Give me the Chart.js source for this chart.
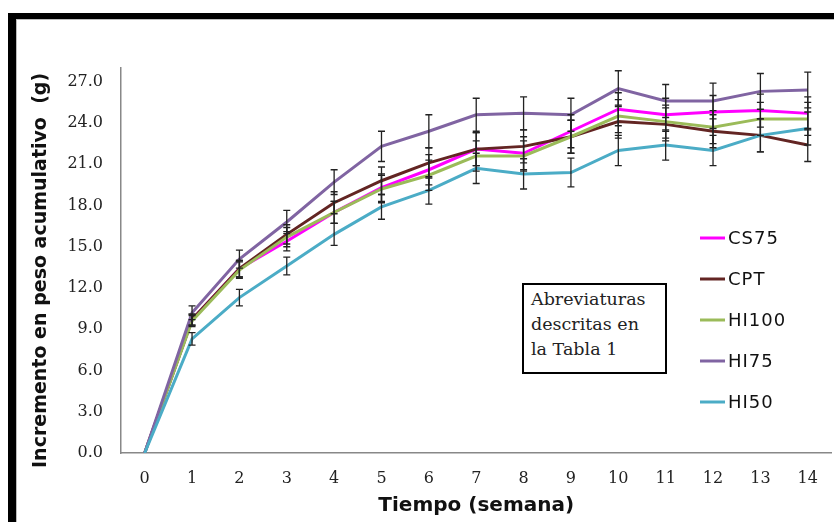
<!DOCTYPE html>
<html>
<head>
<meta charset="utf-8">
<script src="https://cdn.jsdelivr.net/npm/chart.js@4.4.1/dist/chart.umd.min.js"></script>
<style>
  body { margin: 0; background: #fff; }
  #wrap { position: relative; width: 834px; height: 522px; overflow: hidden; }
  #frame { position: absolute; left: 8px; top: 13px; width: 826px; height: 509px;
           border-top: 6px solid #000; border-left: 8px solid #000; box-sizing: border-box; }
  #inner { position: absolute; left: 16px; top: 19px; width: 818px; height: 503px;
           border-top: 1px solid #bbb; border-left: 1px solid #bbb; box-sizing: border-box; }
  #note { position: absolute; left: 522px; top: 283px; width: 145px; height: 91px;
          border: 2.5px solid #000; box-sizing: border-box; padding: 2px 7px;
          font-family: 'DejaVu Serif', serif; font-size: 17.5px; line-height: 25px; color: #222; background: #fff; }
  canvas { position: absolute; left: 0; top: 0; }
</style>
</head>
<body>
<div id="wrap">
  <div id="frame"></div>
  <div id="inner"></div>
  <canvas id="growth" width="834" height="522"></canvas>
  <div id="note">Abreviaturas descritas en la Tabla 1</div>
</div>
<script>
// incremento en peso acumulativo por semana

let weeks = ['0','1','2','3','4','5','6','7','8','9','10','11','12','13','14'];

let cs75  = [0, 9.7, 13.4, 15.4, 17.5, 19.3, 20.6, 22.1, 21.8, 23.4, 25.0, 24.6, 24.8, 24.9, 24.7];
let cpt   = [0, 9.7, 13.4, 15.9, 18.2, 19.8, 21.1, 22.1, 22.3, 23.0, 24.1, 23.9, 23.4, 23.1, 22.4];
let hi100 = [0, 9.6, 13.3, 15.7, 17.5, 19.2, 20.2, 21.6, 21.6, 23.0, 24.5, 24.1, 23.7, 24.3, 24.3];
let hi75  = [0, 10.2, 14.1, 16.8, 19.7, 22.3, 23.4, 24.6, 24.7, 24.6, 26.5, 25.6, 25.6, 26.3, 26.4];
let hi50  = [0, 8.3, 11.3, 13.6, 15.9, 17.9, 19.1, 20.7, 20.3, 20.4, 22.0, 22.4, 22.0, 23.1, 23.6];

// desviaciones (barras de error)
let cs75Err  = [0, 0.4, 0.6, 0.7, 0.8, 1.0, 1.1, 1.2, 1.2, 1.2, 1.2, 1.2, 1.2, 1.2, 1.2];
let cptErr   = [0, 0.4, 0.6, 0.7, 0.8, 1.0, 1.1, 1.2, 1.2, 1.2, 1.2, 1.2, 1.2, 1.2, 1.2];
let hi100Err = [0, 0.4, 0.6, 0.7, 0.8, 1.0, 1.1, 1.1, 1.1, 1.2, 1.2, 1.2, 1.2, 1.2, 1.2];
let hi75Err  = [0, 0.5, 0.65, 0.85, 0.9, 1.1, 1.2, 1.2, 1.2, 1.2, 1.3, 1.2, 1.3, 1.3, 1.3];
let hi50Err  = [0, 0.45, 0.6, 0.65, 0.8, 0.9, 1.0, 1.1, 1.1, 1.05, 1.1, 1.1, 1.1, 1.2, 1.2];

let yTicks = [0, 3, 6, 9, 12, 15, 18, 21, 24, 27];

let serif = "'DejaVu Serif', serif";
let sansBold = "'DejaVu Sans', sans-serif";

function serie(label, data, err, color, order) {
    return {
        label: label,
        data: data,
        err: err,
        borderColor: color,
        backgroundColor: color,
        borderWidth: 3,
        pointRadius: 0,
        tension: 0,
        order: order
    };
}

let errorBars = {
    id: 'errorBars',
    afterDatasetsDraw(chart) {
        let ctx = chart.ctx;
        let y = chart.scales.y;
        ctx.save();
        ctx.strokeStyle = '#222';
        ctx.lineWidth = 1.3;
        chart.data.datasets.forEach((ds, i) => {
            let meta = chart.getDatasetMeta(i);
            meta.data.forEach((pt, j) => {
                let e = ds.err[j];
                if (!e) return;
                let top = y.getPixelForValue(ds.data[j] + e);
                let bot = y.getPixelForValue(ds.data[j] - e);
                ctx.beginPath();
                ctx.moveTo(pt.x, top); ctx.lineTo(pt.x, bot);
                ctx.moveTo(pt.x - 3.5, top); ctx.lineTo(pt.x + 3.5, top);
                ctx.moveTo(pt.x - 3.5, bot); ctx.lineTo(pt.x + 3.5, bot);
                ctx.stroke();
            });
        });
        ctx.restore();
    }
};

let sideLegend = {
    id: 'sideLegend',
    afterDraw(chart) {
        let ctx = chart.ctx;
        ctx.save();
        ctx.font = "18px 'DejaVu Sans', sans-serif";
        ctx.letterSpacing = '1px';
        ctx.textBaseline = 'middle';
        chart.data.datasets.forEach((ds, i) => {
            let yy = 238 + i * 41;
            ctx.strokeStyle = ds.borderColor;
            ctx.lineWidth = 3;
            ctx.beginPath();
            ctx.moveTo(700, yy); ctx.lineTo(725, yy);
            ctx.stroke();
            ctx.fillStyle = '#111';
            ctx.fillText(ds.label, 728, yy + 1);
        });
        ctx.restore();
    }
};

let chart = document.getElementById('growth');

let growthChart = new Chart(chart, {
    type: 'line',
    data: {
        labels: weeks,
        datasets: [
            serie('CS75', cs75, cs75Err, '#ff00ff', 5),
            serie('CPT', cpt, cptErr, '#632523', 4),
            serie('HI100', hi100, hi100Err, '#9bbb59', 3),
            serie('HI75', hi75, hi75Err, '#8064a2', 2),
            serie('HI50', hi50, hi50Err, '#4bacc6', 1)
        ]
    },
    options: {
        responsive: false,
        animation: false,
        layout: { padding: { left: 26, top: 68, right: 2, bottom: 0 } },
        plugins: {
            legend: { display: false },
            tooltip: { enabled: false }
        },
        scales: {
            x: {
                offset: true,
                grid: { display: true, drawOnChartArea: false, drawTicks: false },
                border: { color: '#888', width: 1.5 },
                afterFit: (s) => { s.height = 69; },
                ticks: { color: '#222', padding: 16, font: { family: serif, size: 16 } },
                title: {
                    display: true,
                    text: 'Tiempo (semana)',
                    color: '#111',
                    font: { family: sansBold, size: 20, weight: 'bold' },
                    padding: { top: 4, bottom: 4 }
                }
            },
            y: {
                min: 0,
                max: 28,
                grid: { display: true, drawOnChartArea: false, drawTicks: false },
                border: { color: '#888', width: 1.5 },
                afterBuildTicks: (s) => { s.ticks = yTicks.map(v => ({ value: v })); },
                afterFit: (s) => { s.width = 95; },
                ticks: {
                    color: '#222',
                    padding: 18,
                    font: { family: serif, size: 16 },
                    callback: (v) => Number(v).toFixed(1)
                },
                title: {
                    display: true,
                    text: 'Incremento en peso acumulativo  (g)   ',
                    color: '#111',
                    font: { family: sansBold, size: 19, weight: 'bold' },
                    padding: 4
                }
            }
        }
    },
    plugins: [errorBars, sideLegend]
});
</script>
</body>
</html>
